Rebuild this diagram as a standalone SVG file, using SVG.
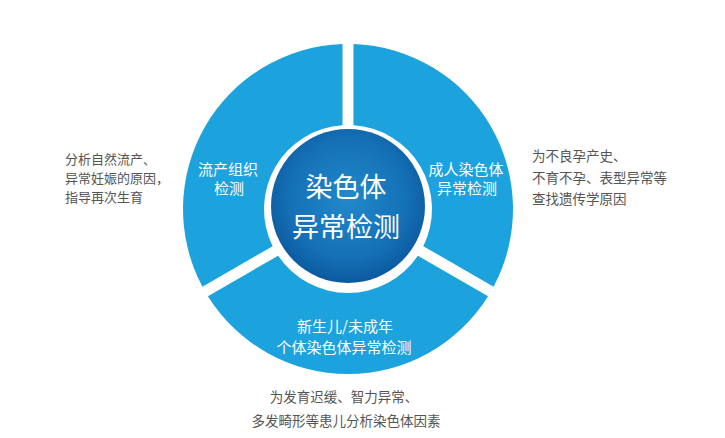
<svg xmlns="http://www.w3.org/2000/svg" width="725" height="438" viewBox="0 0 725 438">
<defs>
<radialGradient id="core" cx="0.5" cy="0.45" r="0.55">
<stop offset="0" stop-color="#2189cb"/>
<stop offset="0.7" stop-color="#1570b6"/>
<stop offset="1" stop-color="#0c5a9f"/>
</radialGradient>
<style>
.seg{fill:#1ca2dc}
.t{font-family:"Noto Sans CJK SC","Noto Sans",sans-serif;dominant-baseline:central}
.w{fill:#ffffff;font-size:15px;text-anchor:middle}
.g{fill:#555555;font-size:13.5px}
.gl{fill:#555555;font-size:13px}
.c{fill:#ffffff;font-size:27px;text-anchor:middle}
</style>
</defs>
<rect width="725" height="438" fill="#ffffff"/>
<g id="connectors"></g>
<g id="seg-left">
<path class="seg" d="M202.44,286.69 A165,165 0 0 1 342.5,44.09 L342.5,125.18 A84,84 0 0 0 272.66,246.15 Z"/>
<text class="t w" x="228" y="168">流产组织</text>
<text class="t w" x="229" y="187">检测</text>
</g>
<g id="seg-right">
<path class="seg" d="M353.5,44.09 A165,165 0 0 1 493.56,286.69 L423.34,246.15 A84,84 0 0 0 353.5,125.18 Z"/>
<text class="t w" x="466" y="168">成人染色体</text>
<text class="t w" x="467" y="187">异常检测</text>
</g>
<g id="seg-bottom">
<path class="seg" d="M488.06,296.21 A165,165 0 0 1 207.94,296.21 L278.16,255.67 A84,84 0 0 0 417.84,255.67 Z"/>
<text class="t w" x="345" y="325">新生儿/未成年</text>
<text class="t w" x="344" y="346">个体染色体异常检测</text>
</g>
<g id="core-node">
<circle cx="348" cy="206" r="77" fill="url(#core)"/>
<text class="t c" x="346" y="185">染色体</text>
<text class="t c" x="346" y="225">异常检测</text>
</g>
<g id="note-left">
<text class="t gl" x="65" y="158">分析自然流产、</text>
<text class="t gl" x="65" y="177">异常妊娠的原因，</text>
<text class="t gl" x="65" y="196">指导再次生育</text>
</g>
<g id="note-right">
<text class="t g" x="532" y="155">为不良孕产史、</text>
<text class="t g" x="532" y="177">不育不孕、表型异常等</text>
<text class="t g" x="532" y="198">查找遗传学原因</text>
</g>
<g id="note-bottom">
<text class="t g" x="344" y="396" text-anchor="middle">为发育迟缓、智力异常、</text>
<text class="t g" x="346" y="420" text-anchor="middle">多发畸形等患儿分析染色体因素</text>
</g>
</svg>
